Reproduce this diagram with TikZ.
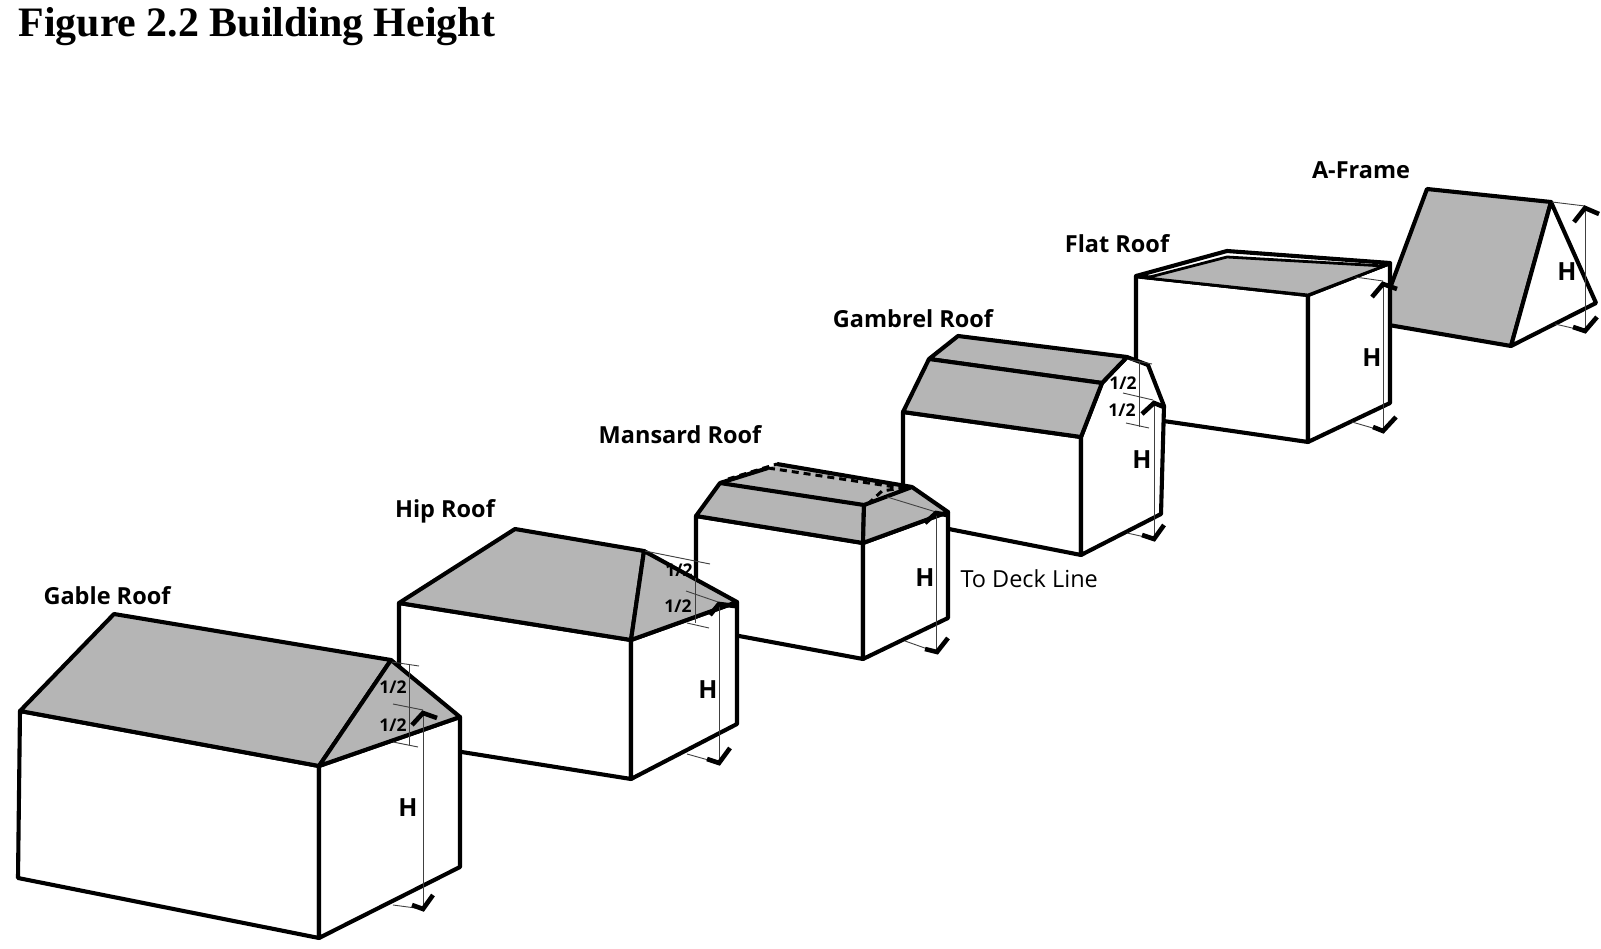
\documentclass[tikz,border=0pt]{standalone}
\usepackage{fontspec}
\setmainfont{Open Sans}
\newfontfamily\titlefont{Liberation Serif}
\tikzset{
	wallface/.style={draw=black, fill=white, line width=4.1pt, line join=round},
	roofface/.style={draw=black, fill=roofgray, line width=4.1pt, line join=round},
	thinline/.style={draw=black!75, line width=0.9pt},
	checkline/.style={draw=black, line width=4.6pt, line join=miter},
	roofname/.style={font=\fontsize{23.5}{23.5}\selectfont\bfseries},
	halfname/.style={font=\fontsize{17.5}{17.5}\selectfont\bfseries},
	heightname/.style={font=\fontsize{25}{25}\selectfont\bfseries}
}
\definecolor{roofgray}{gray}{0.71}
\begin{document}
\begin{tikzpicture}[x=1pt,y=-1pt]
	\useasboundingbox (0,0) rectangle (1601,949);
	\node[font=\titlefont\fontsize{41.9}{41.9}\selectfont\bfseries, anchor=base west] (title) at (15,37) {Figure 2.2 Building Height};

	% a-frame
	\draw[roofface] (1377,323) -- (1427,189) -- (1551,202) -- (1511,346) -- cycle;
	\draw[wallface] (1511,346) -- (1551,202) -- (1596,303) -- cycle;
	\draw[thinline] (1552,202) -- (1585,206);
	\draw[thinline] (1555,324) -- (1585,331);
	\draw[thinline] (1585,207) -- (1585,331);
	\draw[checkline] (1574,222) -- (1585,208) -- (1599,214);
	\draw[checkline] (1573,327) -- (1585,331) -- (1597,317);
	\node[heightname] (aframeH) at (1567,272) {H};
	\node[roofname] (aframe) at (1361,170) {A-Frame};

	% flat roof
	\draw[wallface] (1136,276) -- (1308,295) -- (1308,442) -- (1136,417) -- cycle;
	\draw[wallface] (1308,295) -- (1390,263) -- (1390,403) -- (1308,442) -- cycle;
	\draw[wallface] (1136,276) -- (1227,251) -- (1390,263) -- (1308,295) -- cycle;
	\draw[draw=black, fill=roofgray, line width=2.8pt] (1146,278) -- (1227,257) -- (1384,266) -- (1308,295) -- cycle;
	\draw[thinline] (1355,277) -- (1383,281);
	\draw[thinline] (1352,422) -- (1383,431);
	\draw[thinline] (1383,283) -- (1383,431);
	\draw[checkline] (1372,297) -- (1383,284) -- (1397,289);
	\draw[checkline] (1373,427) -- (1383,431) -- (1396,417);
	\node[heightname] (flatH) at (1372,358) {H};
	\node[roofname] (flat) at (1117,244) {Flat Roof};

	% gambrel roof
	\draw[wallface] (903,412) -- (1081,437) -- (1081,555) -- (903,520) -- cycle;
	\draw[wallface] (1081,437) -- (1102,383) -- (1127,357) -- (1148,365) -- (1164,406) -- (1161,514) -- (1081,555) -- cycle;
	\draw[roofface] (929,359) -- (958,336) -- (1127,357) -- (1102,383) -- cycle;
	\draw[roofface] (903,412) -- (929,359) -- (1102,383) -- (1081,437) -- cycle;
	\draw[thinline] (1130,360) -- (1152,364);
	\draw[thinline] (1123,393) -- (1153,400);
	\draw[thinline] (1126,423) -- (1149,428);
	\draw[thinline] (1139,362) -- (1139,427);
	\draw[thinline] (1127,533) -- (1154,539);
	\draw[thinline] (1154,402) -- (1154,539);
	\draw[checkline] (1142,414) -- (1154,403) -- (1164,407);
	\draw[checkline] (1142,535) -- (1154,539) -- (1164,525);
	\node[halfname] (gambrelA) at (1123,383) {1/2};
	\node[halfname] (gambrelB) at (1122,410) {1/2};
	\node[heightname] (gambrelH) at (1142,460) {H};
	\node[roofname] (gambrel) at (913,319) {Gambrel Roof};

	% mansard roof
	\draw[wallface] (696,516) -- (863,543) -- (863,659) -- (696,628) -- cycle;
	\draw[wallface] (863,543) -- (948,512) -- (948,618) -- (863,659) -- cycle;
	\path[fill=roofgray] (720,483) -- (768,468) -- (777,464) -- (912,487) -- (864,505) -- cycle;
	\draw[roofface] (696,516) -- (720,483) -- (864,505) -- (863,543) -- cycle;
	\draw[roofface] (863,543) -- (864,505) -- (912,487) -- (948,512) -- cycle;
	\draw[black, line width=4.1pt] (720,483) -- (768,468);
	\draw[black, line width=4.1pt] (777,464) -- (912,487);
	\draw[black, line width=3pt, dash pattern=on 7pt off 5pt] (728,479) -- (777,464);
	\draw[black, line width=3pt, dash pattern=on 7pt off 5pt] (768,468) -- (902,488) -- (882,491) -- (870,502);
	\draw[thinline] (887,497) -- (936,512);
	\draw[thinline] (905,641) -- (936,652);
	\draw[thinline] (936,512) -- (936,652);
	\draw[checkline] (925,523) -- (936,513) -- (947,515);
	\draw[checkline] (925,649) -- (937,652) -- (948,638);
	\node[heightname] (mansardH) at (925,578) {H};
	\node[font=\fontsize{23.5}{23.5}\selectfont, anchor=west] (deck) at (957,579) {To Deck Line};
	\node[roofname] (mansard) at (680,435) {Mansard Roof};

	% hip roof
	\draw[wallface] (399,603) -- (631,640) -- (631,779) -- (399,742) -- cycle;
	\draw[wallface] (631,640) -- (737,602) -- (737,724) -- (631,779) -- cycle;
	\draw[roofface] (399,603) -- (515,529) -- (644,551) -- (631,640) -- cycle;
	\draw[roofface] (631,640) -- (644,551) -- (737,602) -- cycle;
	\draw[thinline] (645,551) -- (710,564);
	\draw[thinline] (686,591) -- (718,602);
	\draw[thinline] (687,623) -- (709,628);
	\draw[thinline] (695,578) -- (695,623);
	\draw[thinline] (687,754) -- (719,763);
	\draw[thinline] (719,603) -- (719,763);
	\draw[checkline] (710,615) -- (719,604) -- (735,606);
	\draw[checkline] (707,759) -- (719,763) -- (730,748);
	\node[halfname] (hipA) at (679,570) {1/2};
	\node[halfname] (hipB) at (678,606) {1/2};
	\node[heightname] (hipH) at (708,690) {H};
	\node[roofname] (hip) at (445,511) {Hip Roof};

	% gable roof
	\draw[wallface] (20,711) -- (319,766) -- (319,938) -- (18,878) -- cycle;
	\draw[wallface] (319,766) -- (460,717) -- (460,867) -- (319,938) -- cycle;
	\draw[roofface] (20,711) -- (114,614) -- (391,660) -- (319,766) -- cycle;
	\draw[roofface] (319,766) -- (391,660) -- (460,717) -- cycle;
	\draw[thinline] (392,662) -- (419,666);
	\draw[thinline] (393,704) -- (423,710);
	\draw[thinline] (393,742) -- (418,747);
	\draw[thinline] (409,665) -- (409,745);
	\draw[thinline] (393,905) -- (423,909);
	\draw[thinline] (423,712) -- (423,909);
	\draw[checkline] (412,725) -- (423,713) -- (437,718);
	\draw[checkline] (412,905) -- (423,909) -- (433,895);
	\node[halfname] (gableA) at (393,687) {1/2};
	\node[halfname] (gableB) at (393,725) {1/2};
	\node[heightname] (gableH) at (408,808) {H};
	\node[roofname] (gable) at (107,596) {Gable Roof};
\end{tikzpicture}
\end{document}
